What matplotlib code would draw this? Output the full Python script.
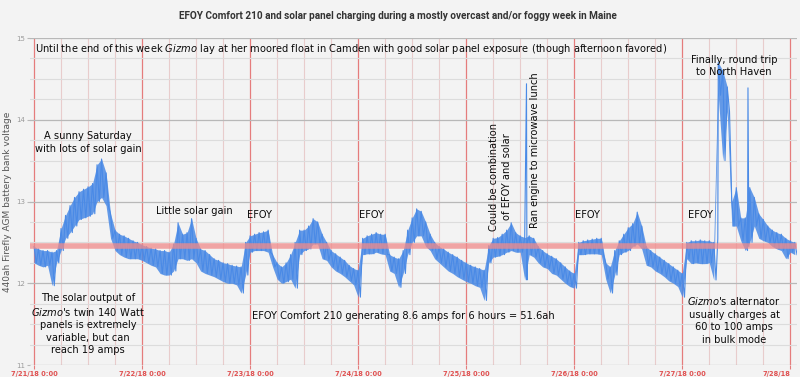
import numpy as np
import matplotlib
matplotlib.use("Agg")
import matplotlib.pyplot as plt
from matplotlib.ticker import MultipleLocator, FixedLocator
import matplotlib.transforms as mtransforms

# ---------------- data ----------------
# hours since 7/21/18 0:00; hourly upper / lower edge of the noisy voltage trace
hours = list(range(0, 170))
upper = [12.45, 12.42, 12.40, 12.40, 12.38, 12.40, 12.67, 12.83, 12.95, 13.05,
         13.12, 13.15, 13.18, 13.22, 13.45, 13.52, 13.35, 12.85, 12.65, 12.60,
         12.58, 12.55, 12.52, 12.50, 12.47, 12.45, 12.43, 12.42, 12.40, 12.40,
         12.38, 12.48, 12.74, 12.60, 12.62, 12.79, 12.55, 12.42, 12.40, 12.35,
         12.30, 12.28, 12.25, 12.24, 12.22, 12.21, 12.20, 12.50, 12.58, 12.60,
         12.62, 12.63, 12.65, 12.35, 12.25, 12.20, 12.25, 12.35, 12.50, 12.65,
         12.65, 12.70, 12.79, 12.75, 12.60, 12.50, 12.40, 12.36, 12.32, 12.28,
         12.22, 12.18, 12.16, 12.55, 12.58, 12.60, 12.62, 12.60, 12.60, 12.35,
         12.32, 12.30, 12.40, 12.65, 12.80, 12.91, 12.88, 12.75, 12.60, 12.50,
         12.45, 12.42, 12.38, 12.35, 12.32, 12.28, 12.25, 12.22, 12.20, 12.18,
         12.16, 12.46, 12.55, 12.56, 12.60, 12.65, 12.74, 12.62, 12.58, 12.56,
         12.58, 12.55, 12.45, 12.40, 12.36, 12.33, 12.30, 12.25, 12.20, 12.15,
         12.12, 12.50, 12.52, 12.53, 12.54, 12.55, 12.55, 12.25, 12.20, 12.40,
         12.52, 12.60, 12.68, 12.73, 12.87, 12.70, 12.45, 12.40, 12.36, 12.32,
         12.28, 12.24, 12.20, 12.16, 12.12, 12.50, 12.52, 12.52, 12.53, 12.52,
         12.52, 12.50, 14.70, 14.60, 14.40, 13.00, 13.17, 12.80, 12.80, 13.17,
         13.05, 12.85, 12.78, 12.70, 12.65, 12.62, 12.60, 12.55, 12.52, 12.50]
lower = [12.25, 12.22, 12.20, 12.22, 11.97, 12.25, 12.40, 12.55, 12.62, 12.70,
         12.78, 12.80, 12.82, 12.85, 13.00, 13.05, 12.95, 12.55, 12.40, 12.35,
         12.32, 12.30, 12.30, 12.30, 12.28, 12.25, 12.22, 12.20, 12.12, 12.10,
         12.10, 12.15, 12.30, 12.30, 12.28, 12.30, 12.25, 12.15, 12.12, 12.10,
         12.08, 12.05, 12.02, 12.00, 12.00, 11.98, 11.88, 12.10, 12.38, 12.40,
         12.40, 12.40, 12.38, 12.20, 12.05, 12.00, 12.02, 12.05, 11.94, 12.35,
         12.40, 12.42, 12.48, 12.48, 12.30, 12.28, 12.20, 12.15, 12.12, 12.08,
         12.03, 11.98, 11.83, 12.35, 12.36, 12.36, 12.38, 12.36, 12.35, 12.15,
         12.12, 11.95, 12.12, 12.35, 12.50, 12.58, 12.58, 12.45, 12.40, 12.30,
         12.25, 12.20, 12.15, 12.12, 12.08, 12.05, 12.02, 12.00, 11.97, 11.95,
         11.79, 12.25, 12.32, 12.33, 12.35, 12.38, 12.40, 12.38, 12.38, 12.04,
         12.35, 12.32, 12.25, 12.20, 12.18, 12.12, 12.10, 12.05, 12.00, 11.96,
         11.94, 12.35, 12.35, 12.36, 12.36, 12.36, 12.35, 12.05, 11.88, 12.10,
         12.35, 12.38, 12.40, 12.45, 12.48, 12.42, 12.22, 12.20, 12.15, 12.12,
         12.08, 12.03, 12.00, 11.96, 11.83, 12.30, 12.24, 12.25, 12.24, 12.24,
         12.25, 12.04, 14.30, 13.50, 14.10, 12.70, 12.70, 12.52, 12.40, 12.50,
         12.70, 12.55, 12.52, 12.50, 12.45, 12.42, 12.40, 12.30, 12.38, 12.35]
# isolated spikes (engine / alternator charging)
spike_hours = [109.4, 109.6, 151.9, 158.6, 158.8]
spike_volts = [14.44, 12.50, 12.55, 14.39, 12.45]

reference_level = 12.45
day_labels = ["7/21/18 0:00", "7/22/18 0:00", "7/23/18 0:00", "7/24/18 0:00",
              "7/25/18 0:00", "7/26/18 0:00", "7/27/18 0:00", "7/28/18"]

# ---------------- build series ----------------
h = np.array(hours, float)
t = np.concatenate([h, h + 0.5, np.array(spike_hours)])
v = np.concatenate([np.array(upper), np.array(lower), np.array(spike_volts)])
order = np.argsort(t, kind="stable")
t, v = t[order], v[order]

# ---------------- figure ----------------
BG = "#f3f3f3"
BLUE = "#4a8ae6"
fig = plt.figure(figsize=(8, 3.77), dpi=100, facecolor=BG)
ax = fig.add_axes([0.0369, 0.0318, 0.9594, 0.8674], facecolor=BG)

ax.set_xlim(-1, 169.5)
ax.set_ylim(11, 15)

ax.xaxis.set_major_locator(FixedLocator([24 * i for i in range(8)]))
ax.xaxis.set_minor_locator(MultipleLocator(6))
ax.yaxis.set_major_locator(MultipleLocator(1))
ax.yaxis.set_minor_locator(MultipleLocator(0.25))

ax.grid(which="minor", axis="y", color="#dcdcdc", lw=0.8)
ax.grid(which="major", axis="y", color="#b8b8b8", lw=0.9)
ax.grid(which="minor", axis="x", color="#e8cccc", lw=0.8)
ax.grid(which="major", axis="x", color="#e57c7c", lw=0.9)
ax.set_axisbelow(True)
for s in ax.spines.values():
    s.set_visible(False)

ax.set_xticks([24 * i for i in range(8)])
ax.set_xticklabels(day_labels, fontsize=4.8, color="#e05050", fontweight="bold")
lbls = ax.get_xticklabels()
lbls[-1].set_horizontalalignment("right")
lbls[-1].set_transform(lbls[-1].get_transform() +
                       mtransforms.ScaledTranslation(4 / 100, 0, fig.dpi_scale_trans))
ax.tick_params(axis="x", which="major", length=3, color="#e57c7c", pad=1)
ax.tick_params(axis="x", which="minor", length=0)
ax.tick_params(axis="y", which="major", length=2, color="#b8b8b8", labelsize=5,
               labelcolor="#9a9a9a", pad=1)
ax.tick_params(axis="y", which="minor", length=0)

ax.fill_between(h, lower, upper, color=BLUE, alpha=0.85, lw=0, zorder=3)
ax.plot(t, v, color=BLUE, lw=0.8, zorder=3)
ax.axhline(reference_level, color="#f08a8a", lw=4, alpha=0.75, zorder=4)

ax.set_ylabel("440ah Firefly AGM battery bank voltage", fontsize=6.5,
              color="#555555")
ax.yaxis.set_label_coords(-0.0225, 0.5)

fig.text(0.497, 0.957, "EFOY Comfort 210 and solar panel charging during a mostly overcast "
         "and/or foggy week in Maine", ha="center", va="center", fontsize=7.2,
         fontweight="bold", color="#333333", family="Roboto")

plt.rcParams["mathtext.fontset"] = "dejavusans"
fs = 7.15
kw = dict(fontsize=fs, color="#0a0a0a", zorder=6)

ax.text(0.3, 14.86, r"Until the end of this week $\mathit{Gizmo}$ lay at her moored float in "
        r"Camden with good solar panel exposure (though afternoon favored)",
        ha="left", va="center", **kw)
ax.text(12, 13.72, "A sunny Saturday\nwith lots of solar gain", ha="center",
        va="center", linespacing=1.3, **kw)
ax.text(27, 12.88, "Little solar gain", ha="left", va="center", **kw)
for hx in [50, 75, 123, 148]:
    ax.text(hx, 12.83, "EFOY", ha="center", va="center", **kw)
ax.text(103.6, 13.30, "Could be combination\nof EFOY and solar", rotation=90,
        ha="center", va="center", linespacing=1.3, **kw)
ax.text(111.3, 13.63, "Ran engine to microwave lunch", rotation=90,
        ha="center", va="center", **kw)
ax.text(155.5, 14.66, "Finally, round trip\nto North Haven", ha="center",
        va="center", linespacing=1.3, **kw)
ax.text(12, 11.5, "The solar output of\n$\\mathit{Gizmo}$'s twin 140 Watt\n"
        "panels is extremely\nvariable, but can\nreach 19 amps", ha="center",
        va="center", linespacing=1.3, **kw)
ax.text(48.5, 11.6, "EFOY Comfort 210 generating 8.6 amps for 6 hours = 51.6ah",
        ha="left", va="center", **kw)
ax.text(155.5, 11.55, "$\\mathit{Gizmo}$'s alternator\nusually charges at\n"
        "60 to 100 amps\nin bulk mode", ha="center", va="center",
        linespacing=1.3, **kw)

fig.savefig("out.png", dpi=100, facecolor=BG)
